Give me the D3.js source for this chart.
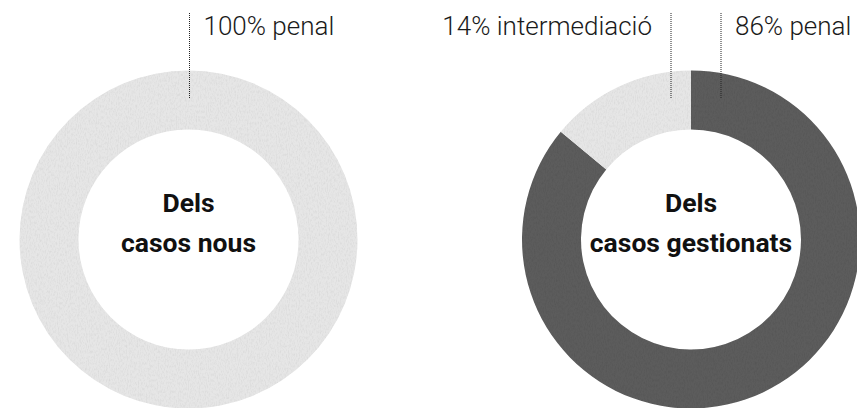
<!DOCTYPE html>
<html>
<head>
<meta charset="utf-8">
<script src="https://cdn.jsdelivr.net/npm/d3@7"></script>
<style>
  html, body { margin: 0; padding: 0; background: #fff; }
  svg { display: block; }
</style>
</head>
<body>
<svg id="chart" width="857" height="408"></svg>
<script>
// Share of cases by route, for new cases and for managed cases
const categories = ["penal", "intermediació"];
const casosNous = [100, 0];
const casosGestionats = [86, 14];
const donutTitles = [["Dels", "casos nous"], ["Dels", "casos gestionats"]];

const width = 857, height = 408;
const outerR = 169, innerR = 110;
const centres = [{ x: 188.5, y: 239.5 }, { x: 691, y: 239.5 }];

const svg = d3.select("#chart");

// soft paper-like grain laid over the ring fills
const defs = svg.append("defs");
const grain = defs.append("filter").attr("id", "grain")
  .attr("x", 0).attr("y", 0).attr("width", 1).attr("height", 1);
grain.append("feTurbulence").attr("type", "fractalNoise")
  .attr("baseFrequency", "0.9 0.35").attr("numOctaves", 3).attr("seed", 7).attr("result", "noise");
grain.append("feColorMatrix").attr("in", "noise").attr("type", "matrix")
  .attr("values", "0 0 0 0 0  0 0 0 0 0  0 0 0 0 0  0 0 0 -0.9 0.55").attr("result", "dark");
grain.append("feComposite").attr("in", "dark").attr("in2", "SourceGraphic").attr("operator", "in").attr("result", "masked");
grain.append("feComponentTransfer").attr("in", "masked").attr("result", "soft")
  .append("feFuncA").attr("type", "linear").attr("slope", 0.25);
const merge = grain.append("feMerge");
merge.append("feMergeNode").attr("in", "SourceGraphic");
merge.append("feMergeNode").attr("in", "soft");

const colour = d3.scaleOrdinal().domain(["penal", "intermediació", "uniform"])
  .range(["#5b5b5b", "#e6e6e6", "#e6e6e6"]);

const pie = d3.pie().sort(null).value(d => d.value);
const arc = d3.arc().innerRadius(innerR).outerRadius(outerR);

function drawDonut(values, titles, c, single) {
  const data = categories.map((k, i) => ({ key: k, value: values[i] }));
  const arcs = pie(data);
  const g = svg.append("g").attr("transform", `translate(${c.x},${c.y})`);

  g.selectAll("path.slice")
    .data(arcs.filter(a => a.data.value > 0))
    .join("path")
    .attr("class", "slice")
    .attr("d", arc)
    .attr("fill", d => single ? colour("uniform") : colour(d.data.key))
    .attr("filter", "url(#grain)");

  // centre caption
  const t = g.append("text")
    .attr("text-anchor", "middle")
    .attr("font-family", "Roboto, 'Noto Sans', sans-serif")
    .attr("font-weight", 700)
    .attr("font-size", 26.5)
    .attr("fill", "#111");
  t.append("tspan").attr("x", 0).attr("y", -27.5).text(titles[0]);
  t.append("tspan").attr("x", 0).attr("y", 12.5).text(titles[1]);

  // leader lines and value labels
  const labelled = arcs.filter(a => a.data.value > 0);
  labelled.forEach(a => {
    const mid = (a.startAngle + a.endAngle) / 2;
    const right = single || mid < Math.PI;
    let lx;
    if (single) lx = 1;
    else lx = right ? 30 : -20;
    g.append("line")
      .attr("x1", lx).attr("x2", lx)
      .attr("y1", 13 - c.y).attr("y2", 98 - c.y)
      .attr("stroke", "#222").attr("stroke-width", 1)
      .attr("stroke-dasharray", "1,1");
    g.append("text")
      .attr("x", right ? lx + 14 : lx - 19)
      .attr("y", 35 - c.y)
      .attr("text-anchor", right ? "start" : "end")
      .attr("font-family", "Roboto, 'Noto Sans', sans-serif")
      .attr("font-weight", 300)
      .attr("font-size", 26)
      .attr("fill", "#1a1a1a")
      .text(`${a.data.value}% ${a.data.key}`);
  });
}

drawDonut(casosNous, donutTitles[0], centres[0], true);
drawDonut(casosGestionats, donutTitles[1], centres[1], false);
</script>
</body>
</html>
